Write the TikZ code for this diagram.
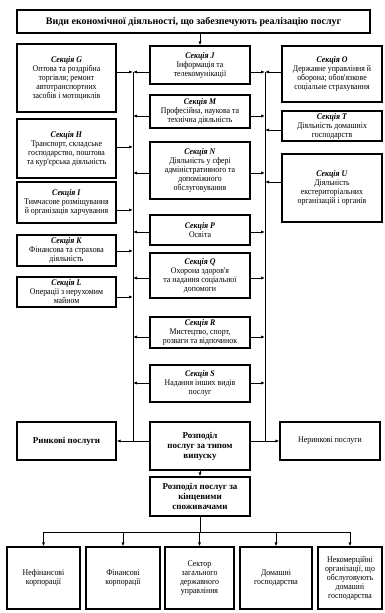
\documentclass[tikz,border=0pt]{standalone}
\usepackage{fontspec}
\setmainfont{Liberation Serif}
\newfontfamily\condfont{Liberation Serif}[FakeStretch=0.9]
\usetikzlibrary{arrows.meta}
\newcommand\mybox[7]{\node[#1, minimum width={(#5-#3)*1pt}, minimum height={(#6-#4)*1pt}] (#2) at ({(#3+#5)/2},{(#4+#6)/2}) {#7};}
\newcommand\secthead[1]{\textbf{\textit{Секція #1}}\\}
\tikzset{
  box/.style={draw, line width=1.3pt, align=center, inner sep=0.5pt, font=\condfont\fontsize{8.7}{9}\selectfont},
  boldbox/.style={box, font=\fontsize{9}{10}\selectfont\bfseries},
  titlebox/.style={box, font=\fontsize{10}{12}\selectfont\bfseries},
  arr/.style={line width=0.8pt, -{Latex[length=4pt,width=3.2pt]}},
  ln/.style={line width=0.8pt}
}
\begin{document}
\begin{tikzpicture}[x=1pt,y=-1pt]
\useasboundingbox (0,0) rectangle (385,613);
% title
\mybox{titlebox}{top}{17}{10}{370}{33}{Види економічної діяльності, що забезпечують реалізацію послуг}
% left column
\mybox{box}{G}{17}{44}{116}{112}{\secthead{G}Оптова та роздрібна\\торгівля; ремонт\\автотранспортних\\засобів і мотоциклів}
\mybox{box}{H}{17}{119}{116}{178}{\secthead{H}Транспорт, складське\\господарство, поштова\\та кур'єрська діяльність}
\mybox{box}{I}{17}{182}{116}{223}{\secthead{I}Тимчасове розміщування\\й організація харчування}
\mybox{box}{K}{17}{235}{116}{266}{\secthead{K}Фінансова та страхова\\діяльність}
\mybox{box}{L}{17}{277}{116}{307}{\secthead{L}Операції з нерухомим\\майном}
% centre column
\mybox{box}{J}{150}{46}{250}{84}{\secthead{J}Інформація та\\телекомунікації}
\mybox{box}{M}{150}{95}{250}{128}{\secthead{M}Професійна, наукова та\\технічна діяльність}
\mybox{box}{N}{150}{142}{250}{199}{\secthead{N}Діяльність у сфері\\адміністративного та\\допоміжного\\обслуговування}
\mybox{box}{P}{150}{215}{250}{245}{\secthead{P}Освіта}
\mybox{box}{Q}{150}{253}{250}{298}{\secthead{Q}Охорона здоров'я\\та надання соціальної\\допомоги}
\mybox{box}{R}{150}{317}{250}{348}{\secthead{R}Мистецтво, спорт,\\розваги та відпочинок}
\mybox{box}{S}{150}{365}{250}{402}{\secthead{S}Надання інших видів\\послуг}
% right column
\mybox{box}{O}{282}{46}{382}{102}{\secthead{O}Державне управління й\\оборона; обов'язкове\\соціальне страхування}
\mybox{box}{T}{282}{111}{382}{141}{\secthead{T}Діяльність домашніх\\господарств}
\mybox{box}{U}{282}{154}{382}{222}{\secthead{U}Діяльність\\екстериторіальних\\організацій і органів}
% distribution
\mybox{boldbox}{mk}{17}{422}{116}{460}{Ринкові послуги}
\mybox{boldbox}{d1}{150}{422}{250}{470}{Розподіл\\послуг за типом\\випуску}
\mybox{box}{nmk}{280}{422}{380}{460}{Неринкові послуги}
\mybox{boldbox}{d2}{150}{477}{250}{516}{Розподіл послуг за\\кінцевими\\споживачами}
% bottom boxes
\mybox{box}{b1}{7}{547}{80}{609}{Нефінансові\\корпорації}
\mybox{box}{b2}{86}{547}{160}{609}{Фінансові\\корпорації}
\mybox{box}{b3}{165}{547}{234}{609}{Сектор\\загального\\державного\\управління}
\mybox{box}{b4}{240}{547}{312}{609}{Домашні\\господарства}
\mybox{box}{b5}{318}{547}{382}{609}{Некомерційні\\організації, що\\обслуговують\\домашні\\господарства}
% bus coordinates
\coordinate (lG) at (133,72);
\coordinate (lH) at (133,147);
\coordinate (lI) at (133,210);
\coordinate (lK) at (133,251);
\coordinate (lL) at (133,297);
\coordinate (lJ) at (133,72);
\coordinate (lM) at (133,116);
\coordinate (lN) at (133,173);
\coordinate (lP) at (133,232);
\coordinate (lQ) at (133,278);
\coordinate (lR) at (133,337);
\coordinate (lS) at (133,383);
\coordinate (rJ) at (265,72);
\coordinate (rM) at (265,116);
\coordinate (rN) at (265,173);
\coordinate (rP) at (265,232);
\coordinate (rQ) at (265,278);
\coordinate (rR) at (265,337);
\coordinate (rS) at (265,383);
\coordinate (rO) at (265,72);
\coordinate (rT) at (265,130);
\coordinate (rU) at (265,182);
\coordinate (hb) at (200,532);
% title to J
\draw[arr] (J.north |- top.south) -- (J.north);
% left boxes to left bus
\foreach \n in {G,H,I,K,L}{\draw[arr] (\n.east |- l\n) -- (l\n);}
% centre boxes to both buses
\foreach \n in {J,M,N,P,Q,R,S}{
  \draw[arr] (\n.west |- l\n) -- (l\n);
  \draw[arr] (\n.east |- r\n) -- (r\n);}
% right boxes to right bus
\foreach \n in {O,T,U}{\draw[arr] (\n.west |- r\n) -- (r\n);}
% buses
\draw[ln] (lG) -- (lG |- mk.east);
\draw[ln] (rJ) -- (rJ |- nmk.west);
% distribution
\draw[arr] (d1.west |- mk.east) -- (mk.east);
\draw[arr] (d1.east |- nmk.west) -- (nmk.west);
\draw[arr] (d1.south) -- (d1.south |- d2.north);
\draw[ln] (d2.south) -- (d2.south |- hb);
\draw[ln] (b1.north |- hb) -- (b5.north |- hb);
\foreach \n in {b1,b2,b3,b4,b5}{\draw[arr] (\n.north |- hb) -- (\n.north);}
\end{tikzpicture}
\end{document}
